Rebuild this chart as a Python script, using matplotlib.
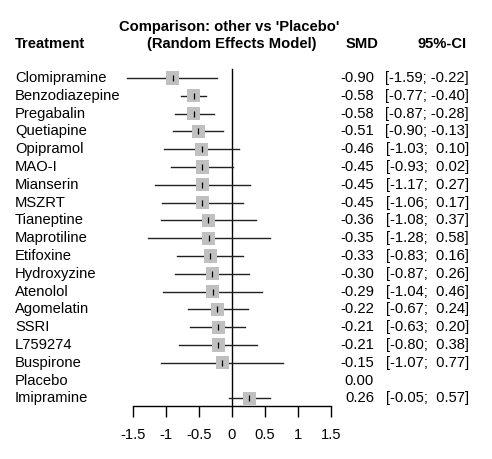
import matplotlib
matplotlib.use("Agg")
import matplotlib.pyplot as plt
from matplotlib.transforms import blended_transform_factory

plt.rcParams['font.family'] = ['Liberation Sans', 'DejaVu Sans']

treatments = ["Clomipramine", "Benzodiazepine", "Pregabalin", "Quetiapine", "Opipramol",
              "MAO-I", "Mianserin", "MSZRT", "Tianeptine", "Maprotiline", "Etifoxine",
              "Hydroxyzine", "Atenolol", "Agomelatin", "SSRI", "L759274", "Buspirone",
              "Placebo", "Imipramine"]
smd = [-0.90, -0.58, -0.58, -0.51, -0.46, -0.45, -0.45, -0.45, -0.36, -0.35, -0.33,
       -0.30, -0.29, -0.22, -0.21, -0.21, -0.15, 0.00, 0.26]
lower = [-1.59, -0.77, -0.87, -0.90, -1.03, -0.93, -1.17, -1.06, -1.08, -1.28, -0.83,
         -0.87, -1.04, -0.67, -0.63, -0.80, -1.07, None, -0.05]
upper = [-0.22, -0.40, -0.28, -0.13, 0.10, 0.02, 0.27, 0.17, 0.37, 0.58, 0.16,
         0.26, 0.46, 0.24, 0.20, 0.38, 0.77, None, 0.57]
xticks = [-1.5, -1, -0.5, 0, 0.5, 1, 1.5]
xticklabels = ["-1.5", "-1", "-0.5", "0", "0.5", "1", "1.5"]

W, H = 492, 459
fig = plt.figure(figsize=(W / 100, H / 100), dpi=100)

row0, step = 78.0, 17.8
top_px, bot_px = 60.0, 406.0
ax = fig.add_axes([133 / W, 1 - bot_px / H, 198 / W, (bot_px - top_px) / H])
ax.set_xlim(-1.5, 1.5)
ax.set_ylim((bot_px - row0) / step, (top_px - row0) / step)
ax.patch.set_alpha(0)
for s in ["top", "left", "right"]:
    ax.spines[s].set_visible(False)
ax.spines["bottom"].set_bounds(-1.5, 1.5)
ax.spines["bottom"].set_linewidth(1.0)
ax.set_yticks([])
ax.set_xticks(xticks)
fs = 10.6
ax.set_xticklabels(xticklabels, fontsize=fs)
ax.tick_params(axis="x", direction="out", length=8, width=1.0, pad=8)

ybot = (bot_px - row0) / step
ax.plot([0, 0], [-0.5, ybot], color="black", lw=1.0, clip_on=False)

for i, (m, lo, hi) in enumerate(zip(smd, lower, upper)):
    if lo is None:
        continue
    ax.plot([lo, hi], [i, i], color="#222222", lw=1.0, clip_on=False, zorder=2)
    ax.scatter([m], [i], marker="s", s=88, color="#c0c0c0", edgecolors="none",
               zorder=3, clip_on=False)
    ax.scatter([m], [i], marker="|", s=16, color="black", linewidths=0.9,
               zorder=4, clip_on=False)

tr = blended_transform_factory(fig.transFigure, ax.transData)

def fmt(v):
    s = f"{v:.2f}"
    return s if v < 0 else " " + s

for i, name in enumerate(treatments):
    fig.text(15 / W, i, name, transform=tr, ha="left", va="center", fontsize=fs)
    fig.text(374 / W, i, f"{smd[i]:.2f}", transform=tr, ha="right", va="center", fontsize=fs)
    if lower[i] is not None:
        fig.text(469 / W, i, f"[{fmt(lower[i])}; {fmt(upper[i])}]", transform=tr,
                 ha="right", va="center", fontsize=fs)

def fy(px):
    return 1 - px / H

fig.text(15 / W, fy(44), "Treatment", ha="left", va="center", fontsize=fs, fontweight="bold")
fig.text(229 / W, fy(27), "Comparison: other vs 'Placebo'", ha="center", va="center",
         fontsize=fs, fontweight="bold")
fig.text(232 / W, fy(44), "(Random Effects Model)", ha="center", va="center",
         fontsize=fs, fontweight="bold")
fig.text(378 / W, fy(44), "SMD", ha="right", va="center", fontsize=fs, fontweight="bold")
fig.text(467 / W, fy(44), "95%-CI", ha="right", va="center", fontsize=fs, fontweight="bold")

fig.savefig("out.png", dpi=100, facecolor="white")
